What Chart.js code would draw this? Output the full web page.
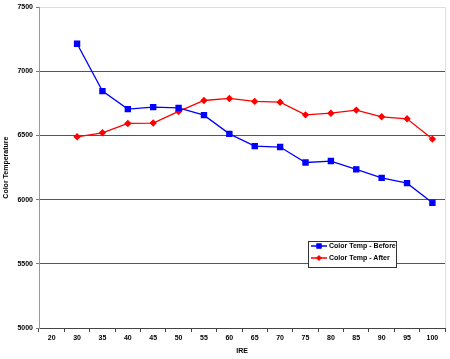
<!DOCTYPE html>
<html>
<head>
<meta charset="utf-8">
<script src="https://cdn.jsdelivr.net/npm/chart.js@4.4.1/dist/chart.umd.min.js"></script>
<style>
  html, body { margin: 0; padding: 0; background: #fff; }
  #wrap { position: relative; width: 450px; height: 359px; }
  #legend {
    position: absolute; left: 308px; top: 241px; width: 87px; height: 25px;
    border: 1px solid #333; background: #fff;
    font: bold 7px "Liberation Sans", Arial, sans-serif; color: #000;
  }
  #legend .row { position: absolute; left: 2px; height: 10px; line-height: 10px; white-space: nowrap; }
  #legend canvas { vertical-align: middle; margin-right: 2px; }
</style>
</head>
<body>
<div id="wrap">
  <canvas id="c" width="450" height="359"></canvas>
  <div id="legend"></div>
</div>
<script>
// ---- data ----
const ireLabels = ['20', '30', '35', '40', '45', '50', '55', '60', '65', '70', '75', '80', '85', '90', '95', '100'];
const tempBefore = [null, 7215, 6846, 6706, 6721, 6715, 6659, 6513, 6417, 6410, 6290, 6301, 6236, 6170, 6129, 5976];
const tempAfter  = [null, 6490, 6521, 6594, 6597, 6688, 6773, 6789, 6766, 6760, 6661, 6674, 6698, 6646, 6630, 6472];
const yTicks = [5000, 5500, 6000, 6500, 7000, 7500];

const FONT = { family: 'Liberation Sans', size: 7, weight: 'bold' };

// right-hand frame edge, light grey like the top gridline
const frameEdge = {
  id: 'frameEdge',
  afterDraw(chart) {
    const { ctx, chartArea: { top, bottom, right } } = chart;
    ctx.save();
    ctx.strokeStyle = '#dcdcdc';
    ctx.lineWidth = 1;
    ctx.beginPath();
    ctx.moveTo(right + 0.5, top);
    ctx.lineTo(right + 0.5, bottom);
    ctx.stroke();
    ctx.restore();
  }
};

const chart = new Chart(document.getElementById('c'), {
  type: 'line',
  data: {
    labels: ireLabels,
    datasets: [
      { label: 'Color Temp - Before', data: tempBefore, borderColor: '#0000ff', backgroundColor: '#0000ff',
        borderWidth: 1.3, pointStyle: 'rect', pointRadius: 3.6, pointHoverRadius: 3.6, tension: 0 },
      { label: 'Color Temp - After', data: tempAfter, borderColor: '#ff0000', backgroundColor: '#ff0000',
        borderWidth: 1.3, pointStyle: 'rectRot', pointRadius: 2.8, pointHoverRadius: 2.8, tension: 0 },
    ]
  },
  options: {
    responsive: false, animation: false,
    layout: { padding: { top: 7, right: 2, left: 0, bottom: 0 } },
    plugins: { legend: { display: false }, tooltip: { enabled: false } },
    scales: {
      x: {
        offset: true,
        grid: { offset: true, drawOnChartArea: false, drawTicks: true, tickLength: 4, tickColor: '#444' },
        border: { color: '#444', width: 1 },
        ticks: { color: '#000', font: FONT, padding: 2, maxRotation: 0, autoSkip: false },
        title: { display: true, text: 'IRE', color: '#000', font: FONT, padding: { top: 3 } },
        afterFit(s) { s.height = 31; s.paddingLeft = 0; s.paddingRight = 0; }
      },
      y: {
        min: 5000, max: 7500,
        afterBuildTicks(s) { s.ticks = yTicks.map(v => ({ value: v })); },
        grid: {
          color: c => c.tick.value === 7500 ? '#dcdcdc' : (c.tick.value === 5000 ? 'rgba(0,0,0,0)' : '#555'),
          lineWidth: 1, tickLength: 3, tickColor: '#777'
        },
        border: { color: '#999', width: 1 },
        ticks: { color: '#000', font: FONT, padding: 3, callback: v => String(v) },
        title: { display: true, text: 'Color Temperature', color: '#000', font: FONT, padding: 2 },
        afterFit(s) { s.width = 39; }
      }
    }
  },
  plugins: [frameEdge]
});

// html legend built from the datasets
const lg = document.getElementById('legend');
chart.data.datasets.forEach((ds, i) => {
  const row = document.createElement('div');
  row.className = 'row';
  row.style.top = (-1 + i * 11.5) + 'px';
  const sw = document.createElement('canvas');
  sw.width = 16; sw.height = 8;
  const g = sw.getContext('2d');
  g.strokeStyle = ds.borderColor; g.fillStyle = ds.borderColor; g.lineWidth = 1.5;
  g.beginPath(); g.moveTo(0, 4); g.lineTo(16, 4); g.stroke();
  Chart.helpers.drawPoint(g, { pointStyle: ds.pointStyle, radius: ds.pointRadius, borderWidth: 0 }, 8, 4);
  g.fill();
  row.appendChild(sw);
  row.appendChild(document.createTextNode(ds.label));
  lg.appendChild(row);
});
</script>
</body>
</html>
